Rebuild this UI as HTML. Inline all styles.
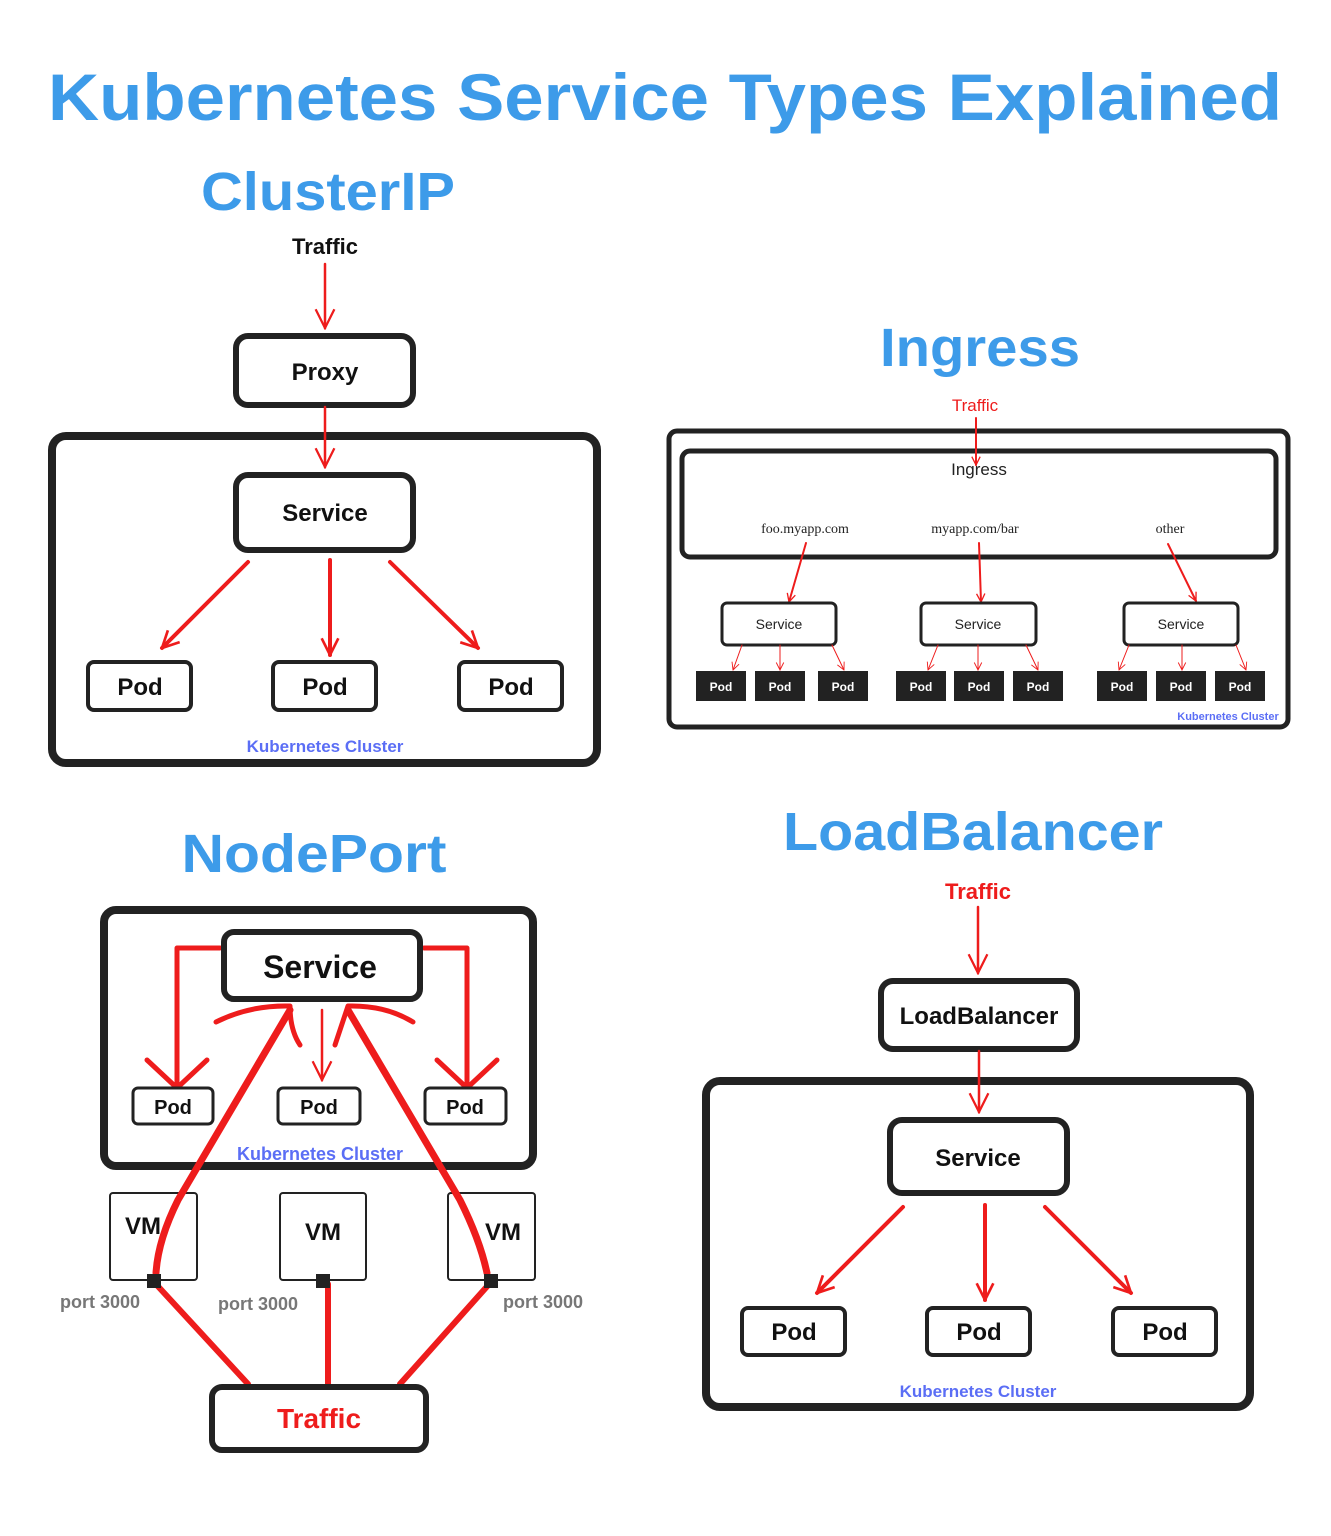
<!DOCTYPE html>
<html><head><meta charset="utf-8"><style>
html,body{margin:0;padding:0;background:#fff}
svg{display:block}
text{font-family:"Liberation Sans","DejaVu Sans",sans-serif}
.t{fill:#3d9be9;font-weight:bold;text-anchor:middle}
.b{fill:#111;font-weight:bold;text-anchor:middle}
.kc{fill:#5b6ef5;font-weight:bold;text-anchor:middle}
.box{fill:#fff;stroke:#222}
.nf{fill:none;stroke:#222}
.r{stroke:#ee1c1c;fill:none;stroke-linecap:round;stroke-linejoin:round}
</style></head><body>
<svg width="1331" height="1536" viewBox="0 0 1331 1536" xmlns="http://www.w3.org/2000/svg">
<defs>
<marker id="a" viewBox="0 0 12 12" refX="11" refY="6" markerWidth="5" markerHeight="5" orient="auto" markerUnits="strokeWidth">
<path d="M1,1 L11,6 L1,11" fill="none" stroke="#ee1c1c" stroke-width="1.6"/></marker>
<marker id="a2" viewBox="0 0 12 12" refX="11" refY="6" markerWidth="9" markerHeight="9" orient="auto" markerUnits="strokeWidth">
<path d="M1,1 L11,6 L1,11" fill="none" stroke="#ee1c1c" stroke-width="1.2"/></marker>
</defs>

<text class="t" x="665" y="120" font-size="66" textLength="1234" lengthAdjust="spacingAndGlyphs">Kubernetes Service Types Explained</text>

<!-- ClusterIP -->
<text class="t" x="328" y="210" font-size="54" textLength="254" lengthAdjust="spacingAndGlyphs">ClusterIP</text>
<text class="b" x="325" y="254" font-size="22">Traffic</text>
<line class="r" x1="325" y1="264" x2="325" y2="328" stroke-width="2.5" marker-end="url(#a2)"/>
<rect class="box" x="236" y="336" width="177" height="69" rx="12" stroke-width="6"/>
<text class="b" x="325" y="380" font-size="24">Proxy</text>
<rect class="nf" x="52" y="436" width="545" height="327" rx="14" stroke-width="8"/>
<line class="r" x1="325" y1="407" x2="325" y2="467" stroke-width="2.5" marker-end="url(#a2)"/>
<rect class="box" x="236" y="475" width="177" height="75" rx="12" stroke-width="6"/>
<text class="b" x="325" y="521" font-size="24">Service</text>
<line class="r" x1="248" y1="562" x2="162" y2="648" stroke-width="4" marker-end="url(#a)"/>
<line class="r" x1="330" y1="560" x2="330" y2="655" stroke-width="4" marker-end="url(#a)"/>
<line class="r" x1="390" y1="562" x2="478" y2="648" stroke-width="4" marker-end="url(#a)"/>
<rect class="box" x="88" y="662" width="103" height="48" rx="6" stroke-width="4"/>
<rect class="box" x="273" y="662" width="103" height="48" rx="6" stroke-width="4"/>
<rect class="box" x="459" y="662" width="103" height="48" rx="6" stroke-width="4"/>
<text class="b" x="140" y="695" font-size="24">Pod</text>
<text class="b" x="325" y="695" font-size="24">Pod</text>
<text class="b" x="511" y="695" font-size="24">Pod</text>
<text class="kc" x="325" y="752" font-size="17">Kubernetes Cluster</text>

<!-- Ingress -->
<text class="t" x="980" y="366" font-size="54" textLength="200" lengthAdjust="spacingAndGlyphs">Ingress</text>
<text x="975" y="411" font-size="17" fill="#ee1c1c" text-anchor="middle">Traffic</text>
<rect class="nf" x="669" y="431" width="619" height="296" rx="8" stroke-width="5"/>
<rect class="nf" x="682" y="451" width="594" height="106" rx="8" stroke-width="5"/>
<line class="r" x1="976" y1="418" x2="976" y2="465" stroke-width="2" marker-end="url(#a)"/>
<text x="979" y="475" font-size="17" fill="#222" text-anchor="middle">Ingress</text>
<g font-size="14" fill="#222" text-anchor="middle">
<text x="805" y="533" style="font-family:'Liberation Serif',serif">foo.myapp.com</text>
<text x="975" y="533" style="font-family:'Liberation Serif',serif">myapp.com/bar</text>
<text x="1170" y="533" style="font-family:'Liberation Serif',serif">other</text>
</g>
<line class="r" x1="806" y1="543" x2="789" y2="602" stroke-width="2" marker-end="url(#a)"/>
<line class="r" x1="979" y1="543" x2="981" y2="602" stroke-width="2" marker-end="url(#a)"/>
<line class="r" x1="1168" y1="544" x2="1196" y2="601" stroke-width="2" marker-end="url(#a)"/>
<rect class="box" x="722" y="603" width="114" height="42" rx="5" stroke-width="3"/>
<rect class="box" x="921" y="603" width="115" height="42" rx="5" stroke-width="3"/>
<rect class="box" x="1124" y="603" width="114" height="42" rx="5" stroke-width="3"/>
<text x="779" y="629" font-size="14" fill="#222" text-anchor="middle">Service</text>
<text x="978" y="629" font-size="14" fill="#222" text-anchor="middle">Service</text>
<text x="1181" y="629" font-size="14" fill="#222" text-anchor="middle">Service</text>
<g fill="#222">
<rect x="696" y="671" width="50" height="30"/><rect x="755" y="671" width="50" height="30"/><rect x="818" y="671" width="50" height="30"/>
<rect x="896" y="671" width="50" height="30"/><rect x="954" y="671" width="50" height="30"/><rect x="1013" y="671" width="50" height="30"/>
<rect x="1097" y="671" width="50" height="30"/><rect x="1156" y="671" width="50" height="30"/><rect x="1215" y="671" width="50" height="30"/>
</g>
<g fill="#fff" font-size="12" font-weight="bold" text-anchor="middle">
<text x="721" y="691">Pod</text><text x="780" y="691">Pod</text><text x="843" y="691">Pod</text>
<text x="921" y="691">Pod</text><text x="979" y="691">Pod</text><text x="1038" y="691">Pod</text>
<text x="1122" y="691">Pod</text><text x="1181" y="691">Pod</text><text x="1240" y="691">Pod</text>
</g>
<g class="r" stroke-width="1" marker-end="url(#a2)">
<line x1="742" y1="645" x2="733" y2="670"/><line x1="780" y1="645" x2="780" y2="670"/><line x1="832" y1="645" x2="844" y2="670"/>
<line x1="938" y1="645" x2="928" y2="670"/><line x1="978" y1="645" x2="978" y2="670"/><line x1="1026" y1="645" x2="1038" y2="670"/>
<line x1="1129" y1="645" x2="1119" y2="670"/><line x1="1182" y1="645" x2="1182" y2="670"/><line x1="1236" y1="645" x2="1246" y2="670"/>
</g>
<text class="kc" x="1228" y="720" font-size="11">Kubernetes Cluster</text>

<!-- NodePort -->
<text class="t" x="314" y="872" font-size="54" textLength="265" lengthAdjust="spacingAndGlyphs">NodePort</text>
<rect class="nf" x="104" y="910" width="429" height="256" rx="12" stroke-width="8"/>
<path class="r" d="M220,948 H177 V1086" stroke-width="5"/>
<path class="r" d="M147,1060 L177,1088 L207,1060" stroke-width="5"/>
<path class="r" d="M424,948 H467 V1086" stroke-width="5"/>
<path class="r" d="M437,1060 L467,1088 L497,1060" stroke-width="5"/>
<line class="r" x1="322" y1="1010" x2="322" y2="1080" stroke-width="2.5" marker-end="url(#a2)"/>
<rect class="box" x="224" y="932" width="196" height="67" rx="10" stroke-width="6"/>
<text class="b" x="320" y="978" font-size="32">Service</text>
<rect class="box" x="133" y="1088" width="80" height="36" rx="5" stroke-width="3"/>
<rect class="box" x="278" y="1088" width="82" height="36" rx="5" stroke-width="3"/>
<rect class="box" x="425" y="1088" width="81" height="36" rx="5" stroke-width="3"/>
<text class="b" x="173" y="1114" font-size="20">Pod</text>
<text class="b" x="319" y="1114" font-size="20">Pod</text>
<text class="b" x="465" y="1114" font-size="20">Pod</text>
<text class="kc" x="320" y="1160" font-size="18">Kubernetes Cluster</text>
<rect class="box" x="110" y="1193" width="87" height="87" rx="3" stroke-width="2"/>
<rect class="box" x="280" y="1193" width="86" height="87" rx="3" stroke-width="2"/>
<rect class="box" x="448" y="1193" width="87" height="87" rx="3" stroke-width="2"/>
<text class="b" x="143" y="1234" font-size="24">VM</text>
<text class="b" x="323" y="1240" font-size="24">VM</text>
<text class="b" x="503" y="1240" font-size="24">VM</text>
<path class="r" d="M156,1273 Q158,1240 178,1200 L290,1010" stroke-width="7"/>
<path class="r" d="M216,1022 Q250,1005 290,1006 Q290,1030 300,1045" stroke-width="5"/>
<path class="r" d="M487,1273 Q480,1240 460,1200 L348,1010" stroke-width="7"/>
<path class="r" d="M413,1022 Q385,1005 348,1006 Q340,1030 335,1045" stroke-width="5"/>
<line class="r" x1="154" y1="1282" x2="248" y2="1384" stroke-width="6"/>
<line class="r" x1="328" y1="1284" x2="328" y2="1384" stroke-width="6"/>
<line class="r" x1="491" y1="1282" x2="400" y2="1384" stroke-width="6"/>
<rect x="147" y="1274" width="14" height="14" fill="#222"/>
<rect x="316" y="1274" width="14" height="14" fill="#222"/>
<rect x="484" y="1274" width="14" height="14" fill="#222"/>
<g fill="#777" font-size="18" font-weight="bold" text-anchor="middle">
<text x="100" y="1308">port 3000</text><text x="258" y="1310">port 3000</text><text x="543" y="1308">port 3000</text>
</g>
<rect class="box" x="212" y="1387" width="214" height="63" rx="10" stroke-width="6"/>
<text x="319" y="1428" font-size="28" font-weight="bold" fill="#ee1c1c" text-anchor="middle">Traffic</text>

<!-- LoadBalancer -->
<text class="t" x="973" y="850" font-size="54" textLength="380" lengthAdjust="spacingAndGlyphs">LoadBalancer</text>
<text x="978" y="899" font-size="22" font-weight="bold" fill="#ee1c1c" text-anchor="middle">Traffic</text>
<line class="r" x1="978" y1="907" x2="978" y2="973" stroke-width="2.5" marker-end="url(#a2)"/>
<rect class="box" x="881" y="981" width="196" height="68" rx="12" stroke-width="6"/>
<text class="b" x="979" y="1024" font-size="24">LoadBalancer</text>
<rect class="nf" x="706" y="1081" width="544" height="326" rx="14" stroke-width="8"/>
<line class="r" x1="979" y1="1051" x2="979" y2="1112" stroke-width="2.5" marker-end="url(#a2)"/>
<rect class="box" x="890" y="1120" width="177" height="73" rx="12" stroke-width="6"/>
<text class="b" x="978" y="1166" font-size="24">Service</text>
<line class="r" x1="903" y1="1207" x2="817" y2="1293" stroke-width="4" marker-end="url(#a)"/>
<line class="r" x1="985" y1="1205" x2="985" y2="1300" stroke-width="4" marker-end="url(#a)"/>
<line class="r" x1="1045" y1="1207" x2="1131" y2="1293" stroke-width="4" marker-end="url(#a)"/>
<rect class="box" x="742" y="1308" width="103" height="47" rx="6" stroke-width="4"/>
<rect class="box" x="927" y="1308" width="103" height="47" rx="6" stroke-width="4"/>
<rect class="box" x="1113" y="1308" width="103" height="47" rx="6" stroke-width="4"/>
<text class="b" x="794" y="1340" font-size="24">Pod</text>
<text class="b" x="979" y="1340" font-size="24">Pod</text>
<text class="b" x="1165" y="1340" font-size="24">Pod</text>
<text class="kc" x="978" y="1397" font-size="17">Kubernetes Cluster</text>
</svg>
</body></html>
